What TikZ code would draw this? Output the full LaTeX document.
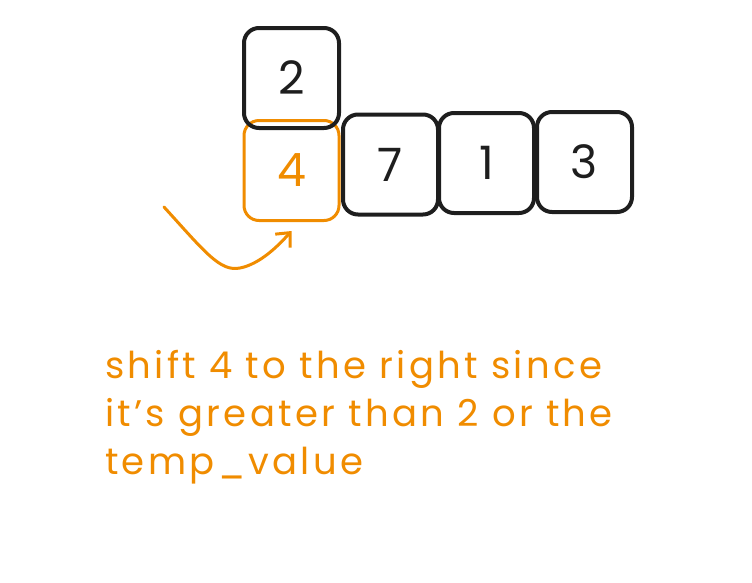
\documentclass[tikz,border=0pt]{standalone}
\usepackage{fontspec}
\setmainfont{Poppins}
\usetikzlibrary{arrows.meta,positioning}
\definecolor{ink}{HTML}{1E1E1E}
\definecolor{accent}{HTML}{F08C00}

\begin{document}
\begin{tikzpicture}[x=1pt, y=-1pt, >={Straight Barb[length=11pt,width=20pt]},
  cell/.style={draw=ink, text=ink, line width=4pt, rounded corners=15pt,
    minimum width=95pt, minimum height=100pt, font=\fontsize{46}{50}\selectfont},
  hot/.style={cell, draw=accent, text=accent, line width=3pt},
  note/.style={text=accent, align=left, inner sep=0pt,
    font=\fontsize{37}{48}\selectfont\addfontfeature{LetterSpace=9}}]

  \useasboundingbox (0,0) rectangle (752,582);

  % --- Array cells ---
  \node[hot]  (c4) at (291.5,170.5) {4};
  \node[cell] (c7) at (390.5,164.5) {7};
  \node[cell] (c1) at (486.5,163)   {1};
  \node[cell] (c3) at (584.5,162)   {3};

  % --- Temp value (drawn on top) ---
  \node[cell] (c2) at (291.5,78)    {2};

  % --- Shift arrow ---
  \coordinate (swoop) at (164,207);
  \draw[->, accent, line width=3pt, line cap=round]
    (swoop) .. controls (205,252) and (220,272) .. (240,268)
    .. controls (260,264) and (278,246) .. ([yshift=-9pt]c4.south);

  % --- Explanation ---
  \node[note, anchor=north west] (msg) at (105,350)
    {shift 4 to the right since\\it's greater than 2 or the\\temp\_value};

\end{tikzpicture}
\end{document}
